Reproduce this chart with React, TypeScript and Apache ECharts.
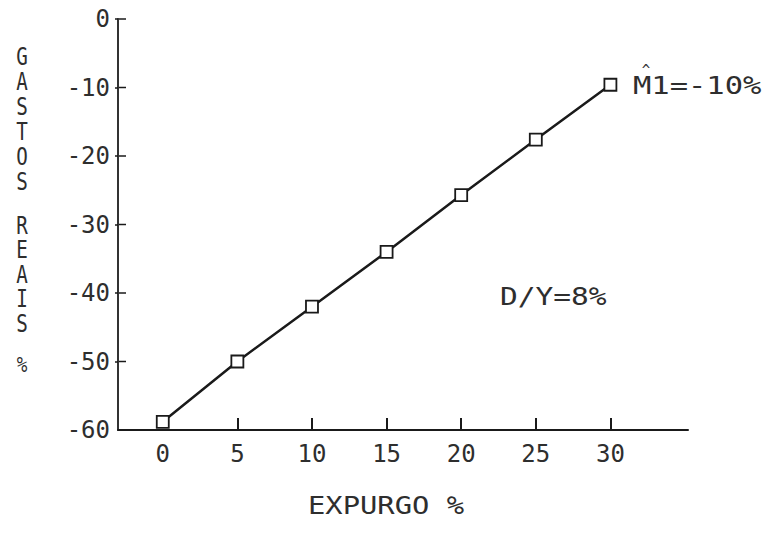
import React, { useEffect, useRef } from "react";
import * as echarts from "echarts";

const xValues = [0, 5, 10, 15, 20, 25, 30];
const yValues = [-58.8, -50, -42, -34, -25.7, -17.6, -9.6];
const xTickLabels = [0, 5, 10, 15, 20, 25, 30];
const xTickMarks = [5, 10, 15, 20, 25, 30];
const yTickLabels = [-60, -50, -40, -30, -20, -10, 0];
const yTickMarks = [-50, -40, -30, -20, -10, 0];
const yTitleParts = ["G\nA\nS\nT\nO\nS", "R\nE\nA\nI\nS", "%"];
const xTitle = "EXPURGO %";
const noteM = "M1=-10%";
const noteD = "D/Y=8%";

const FONT = "DejaVu Sans Mono";
const INK = "#1a1a1a";
const TXT = "#2e2e2e";
const X_MIN = -3;

export default function App() {
  const ref = useRef<HTMLDivElement>(null);
  useEffect(() => {
    if (!ref.current) return;
    const chart = echarts.init(ref.current, null, { renderer: "svg" });
    const data = xValues.map((x, i) => [x, yValues[i]]);
    const texts: any[] = [
      {
        type: "text",
        x: 22,
        y: 44,
        scaleX: 0.8,
        style: {
          text: yTitleParts[0],
          fontFamily: FONT,
          fontSize: 24,
          lineHeight: 25,
          fill: TXT,
          align: "center",
          verticalAlign: "top",
        },
      },
      {
        type: "text",
        x: 22,
        y: 213,
        scaleX: 0.8,
        style: {
          text: yTitleParts[1],
          fontFamily: FONT,
          fontSize: 24,
          lineHeight: 24.5,
          fill: TXT,
          align: "center",
          verticalAlign: "top",
        },
      },
      {
        type: "text",
        x: 22,
        y: 365,
        scaleX: 0.8,
        style: {
          text: yTitleParts[2],
          fontFamily: FONT,
          fontSize: 22,
          fill: TXT,
          align: "center",
          verticalAlign: "middle",
        },
      },
      {
        type: "text",
        x: 386,
        y: 505,
        scaleX: 1.2,
        style: {
          text: xTitle,
          fontFamily: FONT,
          fontSize: 24,
          fill: TXT,
          align: "center",
          verticalAlign: "middle",
        },
      },
      {
        type: "text",
        x: 633,
        y: 86,
        scaleX: 1.27,
        style: {
          text: noteM,
          fontFamily: FONT,
          fontSize: 24,
          fill: TXT,
          align: "left",
          verticalAlign: "middle",
        },
      },
      {
        type: "text",
        x: 646,
        y: 70,
        style: {
          text: "^",
          fontFamily: FONT,
          fontSize: 14,
          fill: TXT,
          align: "center",
          verticalAlign: "middle",
        },
      },
      {
        type: "text",
        x: 500,
        y: 297,
        scaleX: 1.23,
        style: {
          text: noteD,
          fontFamily: FONT,
          fontSize: 24,
          fill: TXT,
          align: "left",
          verticalAlign: "middle",
        },
      },
    ];
    chart.setOption({
      animation: false,
      backgroundColor: "#ffffff",
      grid: { left: 118, top: 19, right: 77, bottom: 103, containLabel: false },
      xAxis: {
        type: "value",
        min: X_MIN,
        max: 35.2,
        position: "bottom",
        splitLine: { show: false },
        axisLine: { show: true, onZero: false, lineStyle: { color: INK, width: 2 } },
        axisTick: {
          show: true,
          inside: true,
          length: 12,
          customValues: xTickMarks,
          lineStyle: { color: INK, width: 2 },
        },
        axisLabel: {
          show: true,
          customValues: xTickLabels,
          margin: 12,
          fontFamily: FONT,
          fontSize: 24,
          color: TXT,
        },
      },
      yAxis: {
        type: "value",
        min: -60,
        max: 0,
        position: "left",
        splitLine: { show: false },
        axisLine: { show: true, onZero: false, lineStyle: { color: "#333", width: 2 } },
        axisTick: {
          show: true,
          inside: false,
          length: 3,
          customValues: yTickMarks,
          lineStyle: { color: INK, width: 1.5 },
        },
        axisLabel: {
          show: true,
          customValues: yTickLabels,
          margin: 8,
          fontFamily: FONT,
          fontSize: 24,
          color: TXT,
        },
      },
      series: [
        {
          type: "line",
          data,
          symbol: "rect",
          symbolSize: 12,
          lineStyle: { color: INK, width: 2.5 },
          itemStyle: { color: "#ffffff", borderColor: INK, borderWidth: 1.8 },
          z: 3,
        },
      ],
      graphic: texts,
    });
    // inner part of the crossing y ticks, positioned through the axis scale
    const inner = yTickMarks.map((v) => {
      const p = chart.convertToPixel({ gridIndex: 0 }, [X_MIN, v]) as number[];
      return {
        type: "line",
        shape: { x1: p[0], y1: p[1], x2: p[0] + 8, y2: p[1] },
        style: { stroke: INK, lineWidth: 1.5 },
      };
    });
    chart.setOption({ graphic: [...texts, ...inner] });
    return () => chart.dispose();
  }, []);
  return (
    <div
      ref={ref}
      style={{ position: "fixed", left: 0, top: 0, width: 765, height: 533, background: "#fff" }}
    />
  );
}
